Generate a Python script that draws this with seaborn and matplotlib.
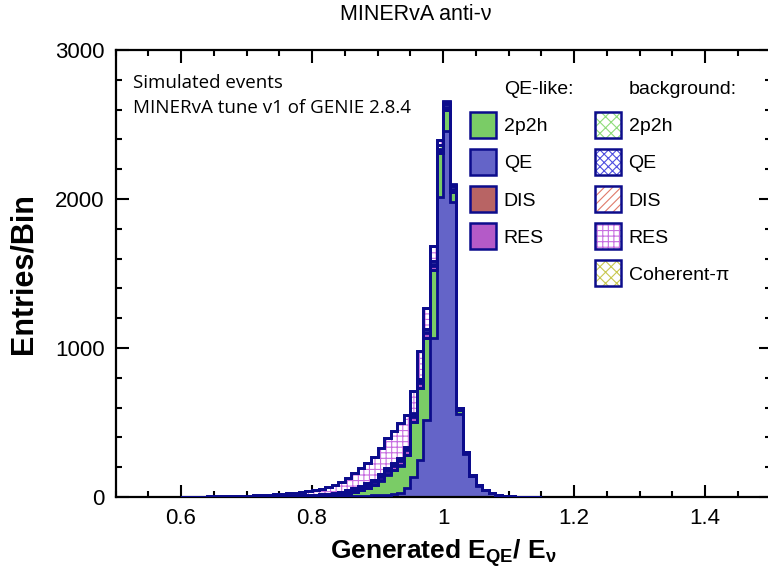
import numpy as np
import pandas as pd
import matplotlib
matplotlib.use("Agg")
import matplotlib.pyplot as plt
import seaborn as sns
from matplotlib.patches import Patch
from matplotlib.legend_handler import HandlerTuple
from matplotlib.ticker import MultipleLocator, FuncFormatter

# bins of E_QE/E_nu, width 0.01, from 0.60 to 1.15
bin_edges = np.round(np.arange(0.60, 1.1501, 0.01), 2)

# QE-like signal (solid fills)
qe_qe = [0, 0, 0, 0, 0, 0, 0, 0, 0, 0,
         1, 1, 1, 1, 1, 1, 1, 1, 1, 1,
         2, 2, 3, 3, 4, 5, 6, 7, 8, 10,
         12, 15, 20, 30, 60, 136, 248, 517, 1067, 2015,
         2456, 1982, 560, 290, 140, 76, 45, 26, 13, 8,
         5, 3, 2, 1, 1]
qe_2p2h = [0, 0, 0, 0, 0, 0, 0, 0, 1, 1,
           1, 1, 1, 1, 2, 2, 2, 2, 2, 2,
           3, 4, 5, 7, 11, 17, 26, 38, 52, 70,
           98, 135, 160, 180, 220, 364, 483, 550, 456, 292,
           141, 67, 25, 6, 3, 1, 1, 0, 0, 0,
           0, 0, 0, 0, 0]
qe_dis = [0, 0, 0, 0, 0, 0, 0, 0, 0, 0,
          0, 0, 0, 0, 0, 0, 0, 0, 1, 1,
          1, 1, 1, 1, 1, 2, 2, 2, 2, 2,
          2, 2, 2, 2, 2, 2, 2, 2, 1, 1,
          0, 0, 0, 0, 0, 0, 0, 0, 0, 0,
          0, 0, 0, 0, 0]
qe_res = [0, 0, 0, 0, 1, 1, 1, 1, 1, 1,
          1, 1, 2, 2, 2, 2, 3, 3, 3, 3,
          4, 5, 6, 7, 8, 10, 12, 14, 16, 19,
          22, 24, 26, 28, 30, 35, 35, 30, 25, 15,
          5, 3, 1, 0, 0, 0, 0, 0, 0, 0,
          0, 0, 0, 0, 0]

# background (hatched fills)
bg_qe = [0, 0, 0, 0, 0, 0, 0, 0, 0, 0,
         0, 0, 0, 1, 1, 1, 1, 1, 2, 2,
         2, 2, 3, 3, 3, 4, 4, 4, 5, 5,
         6, 6, 7, 7, 7, 8, 8, 10, 12, 15,
         15, 15, 5, 3, 2, 1, 1, 1, 1, 0,
         0, 0, 0, 0, 0]
bg_2p2h = [0, 0, 0, 0, 0, 0, 0, 0, 0, 0,
           0, 1, 1, 1, 1, 1, 2, 2, 2, 3,
           3, 3, 4, 4, 5, 6, 7, 8, 9, 10,
           11, 12, 13, 14, 14, 15, 15, 20, 22, 22,
           20, 18, 5, 3, 2, 1, 0, 0, 0, 0,
           0, 0, 0, 0, 0]
bg_dis = [0, 0, 0, 0, 0, 0, 0, 0, 0, 0,
          0, 0, 0, 0, 0, 0, 0, 0, 0, 0,
          0, 0, 0, 0, 1, 1, 1, 1, 1, 1,
          1, 1, 1, 1, 1, 1, 1, 1, 1, 0,
          0, 0, 0, 0, 0, 0, 0, 0, 0, 0,
          0, 0, 0, 0, 0]
bg_res = [2, 2, 3, 3, 3, 3, 4, 5, 5, 6,
          6, 7, 8, 9, 11, 13, 15, 19, 22, 27,
          30, 37, 44, 55, 70, 83, 103, 121, 135, 152,
          176, 200, 215, 234, 215, 148, 187, 137, 100, 34,
          15, 12, 4, 2, 1, 1, 0, 0, 0, 0,
          0, 0, 0, 0, 0]
bg_coh = [0, 0, 0, 0, 0, 0, 0, 0, 0, 0,
          0, 0, 0, 0, 0, 0, 0, 0, 0, 0,
          0, 0, 0, 0, 0, 0, 0, 0, 0, 1,
          1, 1, 1, 1, 1, 1, 1, 1, 1, 1,
          3, 1, 0, 0, 0, 0, 0, 0, 0, 0,
          0, 0, 0, 0, 0]

navy = "#0c0c8c"

# stack order, bottom to top: (key, values, colour, hatch)
layers = [
    ("sig QE", qe_qe, "#6464c8", None),
    ("sig 2p2h", qe_2p2h, "#7acc66", None),
    ("sig DIS", qe_dis, "#b86464", None),
    ("sig RES", qe_res, "#b45ac8", None),
    ("bkg QE", bg_qe, "#4f4fe0", "xxxx"),
    ("bkg 2p2h", bg_2p2h, "#8fdc7a", "xxx"),
    ("bkg DIS", bg_dis, "#e07a6a", "////"),
    ("bkg RES", bg_res, "#c86ee0", "+++"),
    ("bkg Coh", bg_coh, "#c8c850", "xxx"),
]

centers = bin_edges[:-1] + 0.005
df = pd.concat([pd.DataFrame({"x": centers, "w": vals, "comp": key})
                for key, vals, _, _ in layers], ignore_index=True)

sns.set_style("ticks")
plt.rcParams["font.family"] = ["Liberation Sans", "DejaVu Sans"]
plt.rcParams["text.color"] = "black"
plt.rcParams["hatch.linewidth"] = 0.8
plt.rcParams["mathtext.fontset"] = "custom"
plt.rcParams["mathtext.rm"] = "Liberation Sans:bold"
plt.rcParams["mathtext.it"] = "Liberation Sans:bold"
plt.rcParams["mathtext.bf"] = "Liberation Sans:bold"

fig = plt.figure(figsize=(7.68, 5.75), dpi=100)
ax = fig.add_axes([0.1504, 0.1357, 0.853, 0.7774])

order = [k for k, _, _, _ in layers]
palette = {k: c for k, _, c, _ in layers}
sns.histplot(data=df, x="x", weights="w", hue="comp", hue_order=order[::-1],
             multiple="stack", bins=list(bin_edges), element="step", fill=True,
             palette=palette, alpha=1, linewidth=0, legend=False, ax=ax)

# turn background layers into coloured hatching on white
for coll in ax.collections:
    fc = coll.get_facecolor()[0][:3]
    for key, _, col, hatch in layers:
        if hatch and np.allclose(fc, matplotlib.colors.to_rgb(col), atol=0.01):
            coll.set_facecolor("white")
            coll.set_edgecolor(col)
            coll.set_hatch(hatch)
            coll.set_linewidth(0)

# navy outline of every stack layer
cum = np.zeros(len(centers))
for key, vals, _, _ in layers:
    cum = cum + np.array(vals)
    ax.stairs(cum, bin_edges, baseline=0, color=navy, linewidth=2.0, zorder=3)

ax.set_xlim(0.5, 1.5)
ax.set_ylim(0, 3000)
ax.xaxis.set_major_locator(MultipleLocator(0.2))
ax.xaxis.set_minor_locator(MultipleLocator(0.05))
ax.yaxis.set_major_locator(MultipleLocator(1000))
ax.yaxis.set_minor_locator(MultipleLocator(200))
ax.xaxis.set_major_formatter(FuncFormatter(lambda v, p: f"{v:g}"))
ax.yaxis.set_major_formatter(FuncFormatter(lambda v, p: f"{v:g}"))
ax.tick_params(which="both", direction="in", top=True, right=True, width=1.5,
               labelsize=16, colors="black")
ax.tick_params(which="major", length=9, pad=8)
ax.tick_params(which="minor", length=4.5)
for s in ax.spines.values():
    s.set_linewidth(1.6)
    s.set_color("black")
ax.set_xlabel("")
ax.set_ylabel("")

fig.text(24 / 768, 1 - 274 / 575, "Entries/Bin", rotation=90, ha="center",
         va="center", fontsize=22, fontweight="bold")
fig.text(443 / 768, 1 - 553 / 575, r"Generated E$_{\mathrm{QE}}$/ E$_{\nu}$",
         ha="center", va="center", fontsize=19, fontweight="bold")
fig.text(416 / 768, 1 - 15 / 575, "MINERvA anti-ν", ha="center", va="center",
         fontsize=15.5)
fig.text(133 / 768, 1 - 83 / 575, "Simulated events", va="center",
         fontsize=13.5, family="Open Sans")
fig.text(133 / 768, 1 - 108 / 575, "MINERvA tune v1 of GENIE 2.8.4",
         va="center", fontsize=13.5, family="Open Sans")

blank = Patch(facecolor="none", edgecolor="none")
handles = [blank]
labels = ["QE-like:"]
for key, _, col, hatch in [layers[1], layers[0], layers[2], layers[3]]:
    handles.append(Patch(facecolor=col, edgecolor=navy, linewidth=1.8))
    labels.append(key.split()[1])
handles.append(blank)
labels.append("")
handles.append(blank)
labels.append("background:")
for key, _, col, hatch in [layers[5], layers[4], layers[6], layers[7], layers[8]]:
    handles.append((Patch(facecolor="white", edgecolor=col, hatch=hatch, linewidth=0),
                    Patch(facecolor="none", edgecolor=navy, linewidth=1.8)))
    labels.append(key.split()[1])
labels[-1] = "Coherent-π"

fig.legend(handles, labels, ncol=2, loc="upper left",
           bbox_to_anchor=(470 / 768, 1 - 75 / 575), frameon=False,
           fontsize=14, handlelength=1.34, handleheight=1.68,
           handletextpad=0.4, labelspacing=0.57, columnspacing=1.1,
           borderpad=0, borderaxespad=0,
           handler_map={tuple: HandlerTuple(ndivide=1, pad=0)})

fig.savefig("out.png", dpi=100)
